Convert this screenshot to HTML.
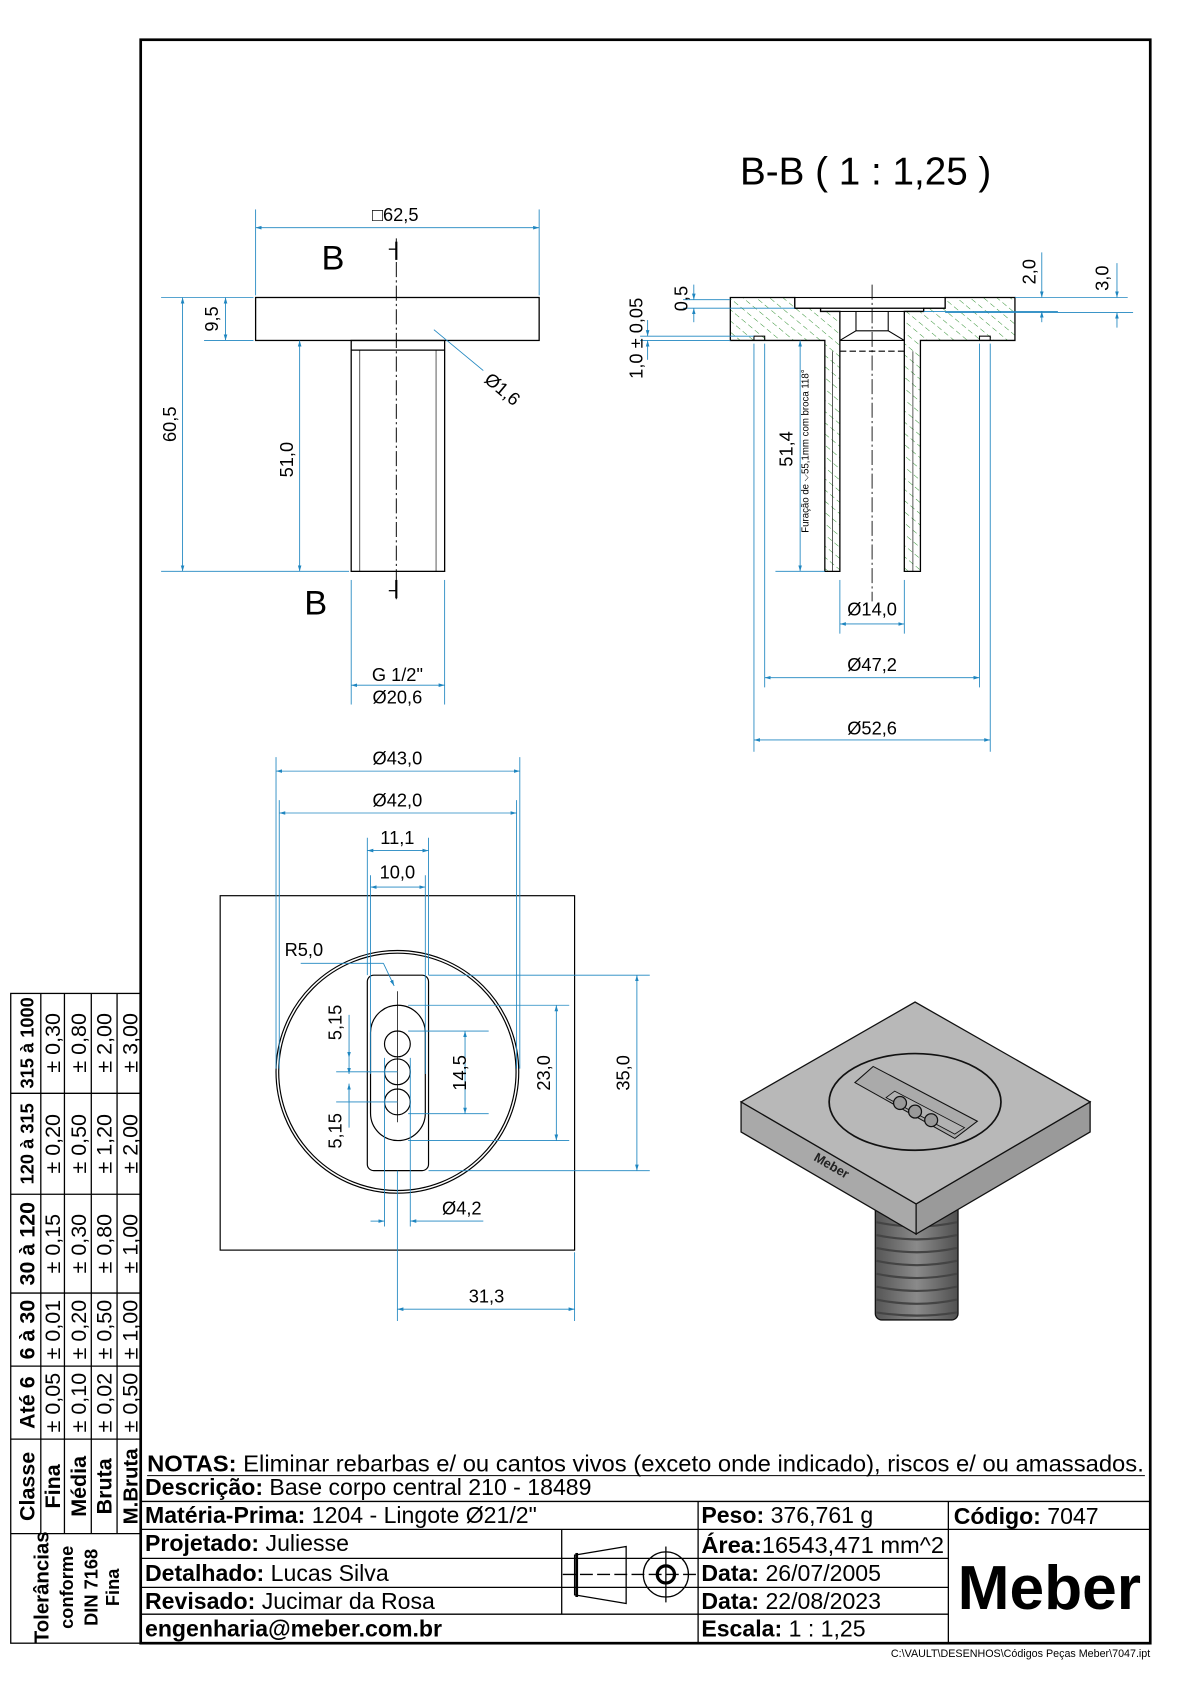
<!DOCTYPE html>
<html><head><meta charset="utf-8"><style>
html,body{margin:0;padding:0;background:#fff;}
svg{display:block;}
text{font-family:"Liberation Sans",Arial,sans-serif;}
</style></head><body>
<svg width="1190" height="1684" viewBox="0 0 1108 1568" preserveAspectRatio="none" xmlns="http://www.w3.org/2000/svg">
<defs>
<pattern id="h" patternUnits="userSpaceOnUse" width="8" height="8" patternTransform="rotate(-50)">
<line x1="0" y1="0" x2="0" y2="8" stroke="#2f8f2f" stroke-width="0.9" stroke-dasharray="5,3"/>
</pattern>
<marker id="a" viewBox="0 0 10 10" refX="10" refY="5" markerWidth="7" markerHeight="7" orient="auto-start-reverse"><path d="M0,2 L10,5 L0,8z" fill="#1f86c0"/></marker>
<linearGradient id="cyl" x1="0" x2="1"><stop offset="0" stop-color="#555"/><stop offset="0.5" stop-color="#8a8a8a"/><stop offset="1" stop-color="#505050"/></linearGradient>
</defs>
<rect width="1108" height="1568" fill="#fff"/>
<rect x="131" y="37" width="940" height="1493" fill="none" stroke="#000" stroke-width="2.5"/>

<!-- FRONT VIEW -->
<g stroke="#000" stroke-width="1.2" fill="none">
<rect x="238" y="277" width="264" height="40"/>
<rect x="327" y="317" width="87" height="215"/>
<line x1="327" y1="326" x2="414" y2="326"/>
<line x1="335" y1="326" x2="335" y2="532" stroke-width="0.6"/>
<line x1="406" y1="326" x2="406" y2="532" stroke-width="0.6"/>
<line x1="369" y1="222" x2="369" y2="558" stroke-width="0.9" stroke-dasharray="14,3,2,3"/>
<line x1="369" y1="225" x2="369" y2="242" stroke-width="2"/>
<line x1="362" y1="232" x2="369" y2="232"/>
<line x1="369" y1="540" x2="369" y2="557" stroke-width="2"/>
<line x1="362" y1="550" x2="369" y2="550"/>
</g>
<text x="310" y="251" font-size="32" text-anchor="middle">B</text>
<text x="294" y="572" font-size="32" text-anchor="middle">B</text>
<g stroke="#1f86c0" stroke-width="0.8" fill="none">
<line x1="238" y1="195" x2="238" y2="275"/><line x1="502" y1="195" x2="502" y2="275"/>
<line x1="238" y1="212" x2="502" y2="212" marker-start="url(#a)" marker-end="url(#a)"/>
<line x1="150" y1="277" x2="236" y2="277"/>
<line x1="190" y1="317" x2="236" y2="317"/>
<line x1="210" y1="277" x2="210" y2="317" marker-start="url(#a)" marker-end="url(#a)"/>
<line x1="150" y1="532" x2="325" y2="532"/>
<line x1="170" y1="277" x2="170" y2="532" marker-start="url(#a)" marker-end="url(#a)"/>
<line x1="279" y1="317" x2="279" y2="532" marker-start="url(#a)" marker-end="url(#a)"/>
<line x1="404" y1="307" x2="450" y2="345"/>
<line x1="327" y1="540" x2="327" y2="656"/><line x1="414" y1="540" x2="414" y2="656"/>
<line x1="327" y1="638" x2="414" y2="638" marker-start="url(#a)" marker-end="url(#a)"/>
</g>
<g font-size="17">
<text x="368" y="206" text-anchor="middle">□62,5</text>
<text transform="translate(203,297) rotate(-90)" text-anchor="middle">9,5</text>
<text transform="translate(164,395) rotate(-90)" text-anchor="middle">60,5</text>
<text transform="translate(273,428) rotate(-90)" text-anchor="middle">51,0</text>
<text transform="translate(450,355) rotate(40)">Ø1,6</text>
<text x="370" y="634" text-anchor="middle">G 1/2"</text>
<text x="370" y="655" text-anchor="middle">Ø20,6</text>
</g>

<!-- SECTION B-B -->
<text x="806" y="172" font-size="36" text-anchor="middle">B-B ( 1 : 1,25 )</text>
<g stroke="#000" stroke-width="1.2">
<path d="M680,277 L740,277 L740,287 L764,287 L764,290 L782,290 L782,532 L768,532 L768,317 L680,317Z" fill="url(#h)"/>
<path d="M945,277 L880,277 L880,287 L860,287 L860,290 L842,290 L842,532 L857,532 L857,317 L945,317Z" fill="url(#h)"/>
</g>
<g stroke="#000" stroke-width="1" fill="none">
<rect x="740" y="277" width="140" height="10"/>
<rect x="764" y="287" width="96" height="3"/>
<line x1="797" y1="290" x2="797" y2="308"/><line x1="827" y1="290" x2="827" y2="308"/>
<path d="M782,317 L797,308 L827,308 L842,317"/>
<line x1="782" y1="317" x2="842" y2="317"/>
<line x1="782" y1="327" x2="842" y2="327" stroke-dasharray="6,3"/>
<line x1="775" y1="327" x2="775" y2="532" stroke-width="0.6"/>
<line x1="850" y1="327" x2="850" y2="532" stroke-width="0.6"/>
<rect x="702" y="313" width="10" height="4"/><rect x="912" y="313" width="10" height="4"/>
<line x1="812" y1="265" x2="812" y2="560" stroke-width="0.8" stroke-dasharray="14,3,2,3"/>
</g>
<g stroke="#1f86c0" stroke-width="0.8" fill="none">
<line x1="702" y1="320" x2="702" y2="700"/><line x1="712" y1="320" x2="712" y2="640"/>
<line x1="912" y1="320" x2="912" y2="640"/><line x1="922" y1="320" x2="922" y2="700"/>
<line x1="782" y1="540" x2="782" y2="590"/><line x1="842" y1="540" x2="842" y2="590"/>
<line x1="782" y1="581" x2="842" y2="581" marker-start="url(#a)" marker-end="url(#a)"/>
<line x1="712" y1="631" x2="912" y2="631" marker-start="url(#a)" marker-end="url(#a)"/>
<line x1="702" y1="689" x2="922" y2="689" marker-start="url(#a)" marker-end="url(#a)"/>
<line x1="722" y1="532" x2="768" y2="532"/>
<line x1="745" y1="317" x2="745" y2="532" marker-start="url(#a)" marker-end="url(#a)"/>
<line x1="636" y1="279" x2="680" y2="279"/>
<line x1="636" y1="287" x2="740" y2="287"/>
<line x1="646" y1="265" x2="646" y2="279" marker-end="url(#a)"/>
<line x1="646" y1="300" x2="646" y2="287" marker-end="url(#a)"/>
<line x1="596" y1="313" x2="702" y2="313"/><line x1="596" y1="317" x2="680" y2="317"/>
<line x1="603" y1="298" x2="603" y2="313" marker-end="url(#a)"/>
<line x1="603" y1="335" x2="603" y2="317" marker-end="url(#a)"/>
<line x1="945" y1="277" x2="1050" y2="277"/>
<line x1="860" y1="290" x2="985" y2="290"/>
<line x1="880" y1="291" x2="1055" y2="291"/>
<line x1="970" y1="235" x2="970" y2="277" marker-end="url(#a)"/>
<line x1="970" y1="300" x2="970" y2="290" marker-end="url(#a)"/>
<line x1="1040" y1="245" x2="1040" y2="277" marker-end="url(#a)"/>
<line x1="1040" y1="305" x2="1040" y2="291" marker-end="url(#a)"/>
</g>
<g font-size="17">
<text x="812" y="573" text-anchor="middle">Ø14,0</text>
<text x="812" y="625" text-anchor="middle">Ø47,2</text>
<text x="812" y="684" text-anchor="middle">Ø52,6</text>
<text transform="translate(738,418) rotate(-90)" text-anchor="middle">51,4</text>
<text transform="translate(640,278) rotate(-90)" text-anchor="middle">0,5</text>
<text transform="translate(598,315) rotate(-90)" text-anchor="middle">1,0 ± 0,05</text>
<text transform="translate(964,253) rotate(-90)" text-anchor="middle">2,0</text>
<text transform="translate(1032,259) rotate(-90)" text-anchor="middle">3,0</text>
<text transform="translate(753,420) rotate(-90)" text-anchor="middle" font-size="9">Furação de ⌵55,1mm com broca 118°</text>
</g>

<!-- TOP VIEW -->
<g stroke="#000" stroke-width="1.1" fill="none">
<rect x="205" y="834" width="330" height="330"/>
<circle cx="370" cy="998" r="113"/><circle cx="370" cy="998" r="110.5"/>
<rect x="342" y="908" width="57" height="182" rx="6"/>
<rect x="345" y="936" width="51" height="126" rx="25.5"/>
<circle cx="370" cy="972" r="12"/><circle cx="370" cy="998" r="12"/><circle cx="370" cy="1026" r="12"/>
<line x1="370" y1="923" x2="370" y2="1045" stroke-width="0.7"/>
</g>
<g stroke="#1f86c0" stroke-width="0.8" fill="none">
<line x1="257" y1="705" x2="257" y2="995"/><line x1="484" y1="705" x2="484" y2="995"/>
<line x1="260" y1="745" x2="260" y2="995"/><line x1="481" y1="745" x2="481" y2="995"/>
<line x1="342" y1="780" x2="342" y2="908"/><line x1="399" y1="780" x2="399" y2="908"/>
<line x1="345" y1="815" x2="345" y2="1000"/><line x1="396" y1="815" x2="396" y2="1000"/>
<line x1="257" y1="718" x2="484" y2="718" marker-start="url(#a)" marker-end="url(#a)"/>
<line x1="260" y1="757" x2="481" y2="757" marker-start="url(#a)" marker-end="url(#a)"/>
<line x1="342" y1="792" x2="399" y2="792" marker-start="url(#a)" marker-end="url(#a)"/>
<line x1="345" y1="826" x2="396" y2="826" marker-start="url(#a)" marker-end="url(#a)"/>
<line x1="399" y1="908" x2="605" y2="908"/><line x1="399" y1="1090" x2="605" y2="1090"/>
<line x1="593" y1="908" x2="593" y2="1090" marker-start="url(#a)" marker-end="url(#a)"/>
<line x1="380" y1="936" x2="530" y2="936"/><line x1="380" y1="1062" x2="530" y2="1062"/>
<line x1="518" y1="936" x2="518" y2="1062" marker-start="url(#a)" marker-end="url(#a)"/>
<line x1="380" y1="960" x2="455" y2="960"/><line x1="380" y1="1037" x2="455" y2="1037"/>
<line x1="433" y1="960" x2="433" y2="1037" marker-start="url(#a)" marker-end="url(#a)"/>
<line x1="325" y1="945" x2="325" y2="985" marker-end="url(#a)"/>
<line x1="325" y1="1025" x2="325" y2="1009" marker-end="url(#a)"/>
<line x1="325" y1="985" x2="325" y2="1000" marker-end="url(#a)"/>
<line x1="325" y1="1050" x2="325" y2="1010"/>
<line x1="313" y1="998" x2="370" y2="998"/><line x1="313" y1="1026" x2="370" y2="1026"/>
<line x1="280" y1="897" x2="357" y2="897"/><line x1="357" y1="897" x2="367" y2="918" marker-end="url(#a)"/>
<line x1="358" y1="985" x2="358" y2="1142"/><line x1="382" y1="985" x2="382" y2="1142"/>
<line x1="370" y1="1090" x2="370" y2="1230"/><line x1="535" y1="1166" x2="535" y2="1230"/>
<line x1="345" y1="1137" x2="358" y2="1137" marker-end="url(#a)"/>
<line x1="450" y1="1137" x2="382" y2="1137" marker-end="url(#a)"/>
<line x1="370" y1="1219" x2="535" y2="1219" marker-start="url(#a)" marker-end="url(#a)"/>
</g>
<g font-size="17">
<text x="370" y="712" text-anchor="middle">Ø43,0</text>
<text x="370" y="751" text-anchor="middle">Ø42,0</text>
<text x="370" y="786" text-anchor="middle">11,1</text>
<text x="370" y="818" text-anchor="middle">10,0</text>
<text x="265" y="890">R5,0</text>
<text transform="translate(318,952) rotate(-90)" text-anchor="middle">5,15</text>
<text transform="translate(318,1053) rotate(-90)" text-anchor="middle">5,15</text>
<text transform="translate(434,999) rotate(-90)" text-anchor="middle">14,5</text>
<text transform="translate(512,999) rotate(-90)" text-anchor="middle">23,0</text>
<text transform="translate(586,999) rotate(-90)" text-anchor="middle">35,0</text>
<text x="430" y="1131" text-anchor="middle">Ø4,2</text>
<text x="453" y="1213" text-anchor="middle">31,3</text>
</g>

<!-- ISOMETRIC -->
<g stroke="#111" stroke-width="1.2">
<rect x="815" y="1120" width="77" height="109" rx="6" fill="url(#cyl)"/>
<g stroke="#444" stroke-width="2" fill="none">
<path d="M816,1138 q38,8 75,0"/><path d="M816,1150 q38,8 75,0"/><path d="M816,1162 q38,8 75,0"/><path d="M816,1174 q38,8 75,0"/><path d="M816,1186 q38,8 75,0"/><path d="M816,1198 q38,8 75,0"/><path d="M816,1210 q38,8 75,0"/><path d="M816,1222 q38,6 75,0"/>
</g>
<path d="M690,1026 L853,1121 L853,1149 L690,1054Z" fill="#a9a9a9"/>
<path d="M853,1121 L1015,1026 L1015,1054 L853,1149Z" fill="#9a9a9a"/>
<path d="M690,1026 L852,933 L1015,1026 L853,1121Z" fill="#b8b8b8"/>
<ellipse cx="852" cy="1026" rx="80" ry="45" fill="none" stroke-width="1.6"/>
<path d="M796,1008 L813,993 L910,1044 L889,1060Z" fill="#aaa" stroke-width="1"/>
<path d="M825,1022 L833,1016 L898,1050 L889,1056Z" fill="#b2b2b2" stroke-width="0.8"/>
<circle cx="838" cy="1027" r="6" fill="#999"/><circle cx="852" cy="1035" r="6" fill="#999"/><circle cx="867" cy="1043" r="6" fill="#999"/>
</g>
<text transform="translate(757,1080) rotate(30)" font-size="12" font-weight="bold" fill="#222">Meber</text>

<!-- TITLE BLOCK -->
<g stroke="#000" stroke-width="1.2" fill="none">
<line x1="131" y1="1398" x2="1071" y2="1398"/>
<line x1="131" y1="1424" x2="1071" y2="1424"/>
<line x1="131" y1="1451" x2="883" y2="1451"/>
<line x1="131" y1="1478" x2="883" y2="1478"/>
<line x1="131" y1="1503" x2="883" y2="1503"/>
<line x1="523" y1="1424" x2="523" y2="1503"/>
<line x1="650" y1="1398" x2="650" y2="1530"/>
<line x1="883" y1="1398" x2="883" y2="1530"/>
<path d="M535,1448 L583,1440 L583,1493 L535,1485Z"/>
<line x1="537" y1="1446" x2="537" y2="1487" stroke-width="2.5"/>
<line x1="524" y1="1466" x2="650" y2="1466" stroke-dasharray="12,4"/>
<circle cx="620" cy="1466" r="21"/><circle cx="620" cy="1466" r="8" stroke-width="3"/>
<line x1="620" y1="1440" x2="620" y2="1492"/>
</g>
<line x1="137" y1="1374" x2="1066" y2="1374" stroke="#000" stroke-width="1"/>
<g font-size="21.5">
<text x="137" y="1370" textLength="928" lengthAdjust="spacingAndGlyphs"><tspan font-weight="bold">NOTAS:</tspan> Eliminar rebarbas e/ ou cantos vivos (exceto onde indicado), riscos e/ ou amassados.</text>
<text x="135" y="1392"><tspan font-weight="bold">Descrição:</tspan> Base corpo central 210 - 18489</text>
<text x="135" y="1418"><tspan font-weight="bold">Matéria-Prima:</tspan> 1204 - Lingote Ø21/2"</text>
<text x="135" y="1444"><tspan font-weight="bold">Projetado:</tspan> Juliesse</text>
<text x="135" y="1472"><tspan font-weight="bold">Detalhado:</tspan> Lucas Silva</text>
<text x="135" y="1498"><tspan font-weight="bold">Revisado:</tspan> Jucimar da Rosa</text>
<text x="135" y="1524" font-weight="bold">engenharia@meber.com.br</text>
<text x="653" y="1418"><tspan font-weight="bold">Peso:</tspan> 376,761 g</text>
<text x="653" y="1446" textLength="226" lengthAdjust="spacingAndGlyphs"><tspan font-weight="bold">Área:</tspan>16543,471 mm^2</text>
<text x="653" y="1472"><tspan font-weight="bold">Data:</tspan> 26/07/2005</text>
<text x="653" y="1498"><tspan font-weight="bold">Data:</tspan> 22/08/2023</text>
<text x="653" y="1524"><tspan font-weight="bold">Escala:</tspan> 1 : 1,25</text>
<text x="888" y="1419"><tspan font-weight="bold">Código:</tspan> 7047</text>
</g>
<text x="977" y="1498" font-size="58" font-weight="bold" text-anchor="middle">Meber</text>
<text x="1071" y="1543" font-size="10" text-anchor="end">C:\VAULT\DESENHOS\Códigos Peças Meber\7047.ipt</text>

<!-- TOLERANCE TABLE -->
<g stroke="#000" stroke-width="1.2" fill="none">
<rect x="10" y="925" width="121" height="605"/>
<line x1="38" y1="925" x2="38" y2="1428"/>
<line x1="60" y1="925" x2="60" y2="1428"/>
<line x1="85" y1="925" x2="85" y2="1428"/>
<line x1="109" y1="925" x2="109" y2="1428"/>
<line x1="10" y1="1018" x2="131" y2="1018"/>
<line x1="10" y1="1112" x2="131" y2="1112"/>
<line x1="10" y1="1204" x2="131" y2="1204"/>
<line x1="10" y1="1272" x2="131" y2="1272"/>
<line x1="10" y1="1340" x2="131" y2="1340"/>
<line x1="10" y1="1428" x2="131" y2="1428"/>
</g>
<g font-size="20">
<g font-weight="bold">
<text transform="translate(31,971) rotate(-90)" text-anchor="middle" font-size="17">315 à 1000</text>
<text transform="translate(31,1065) rotate(-90)" text-anchor="middle" font-size="17">120 à 315</text>
<text transform="translate(32,1158) rotate(-90)" text-anchor="middle">30 à 120</text>
<text transform="translate(32,1238) rotate(-90)" text-anchor="middle">6 à 30</text>
<text transform="translate(32,1306) rotate(-90)" text-anchor="middle">Até 6</text>
<text transform="translate(32,1384) rotate(-90)" text-anchor="middle">Classe</text>
<text transform="translate(56,1384) rotate(-90)" text-anchor="middle">Fina</text>
<text transform="translate(80,1384) rotate(-90)" text-anchor="middle">Média</text>
<text transform="translate(104,1384) rotate(-90)" text-anchor="middle">Bruta</text>
<text transform="translate(128,1384) rotate(-90)" text-anchor="middle" font-size="19">M.Bruta</text>
</g>
<g>
<text transform="translate(56,971) rotate(-90)" text-anchor="middle">± 0,30</text>
<text transform="translate(80,971) rotate(-90)" text-anchor="middle">± 0,80</text>
<text transform="translate(104,971) rotate(-90)" text-anchor="middle">± 2,00</text>
<text transform="translate(128,971) rotate(-90)" text-anchor="middle">± 3,00</text>
<text transform="translate(56,1065) rotate(-90)" text-anchor="middle">± 0,20</text>
<text transform="translate(80,1065) rotate(-90)" text-anchor="middle">± 0,50</text>
<text transform="translate(104,1065) rotate(-90)" text-anchor="middle">± 1,20</text>
<text transform="translate(128,1065) rotate(-90)" text-anchor="middle">± 2,00</text>
<text transform="translate(56,1158) rotate(-90)" text-anchor="middle">± 0,15</text>
<text transform="translate(80,1158) rotate(-90)" text-anchor="middle">± 0,30</text>
<text transform="translate(104,1158) rotate(-90)" text-anchor="middle">± 0,80</text>
<text transform="translate(128,1158) rotate(-90)" text-anchor="middle">± 1,00</text>
<text transform="translate(56,1238) rotate(-90)" text-anchor="middle">± 0,01</text>
<text transform="translate(80,1238) rotate(-90)" text-anchor="middle">± 0,20</text>
<text transform="translate(104,1238) rotate(-90)" text-anchor="middle">± 0,50</text>
<text transform="translate(128,1238) rotate(-90)" text-anchor="middle">± 1,00</text>
<text transform="translate(56,1306) rotate(-90)" text-anchor="middle">± 0,05</text>
<text transform="translate(80,1306) rotate(-90)" text-anchor="middle">± 0,10</text>
<text transform="translate(104,1306) rotate(-90)" text-anchor="middle">± 0,02</text>
<text transform="translate(128,1306) rotate(-90)" text-anchor="middle">± 0,50</text>
</g>
<g font-weight="bold" font-size="17">
<text transform="translate(45,1478) rotate(-90)" text-anchor="middle" font-size="19">Tolerâncias</text>
<text transform="translate(68,1478) rotate(-90)" text-anchor="middle">conforme</text>
<text transform="translate(91,1478) rotate(-90)" text-anchor="middle">DIN 7168</text>
<text transform="translate(111,1478) rotate(-90)" text-anchor="middle">Fina</text>
</g>
</g>
</svg>
</body></html>
